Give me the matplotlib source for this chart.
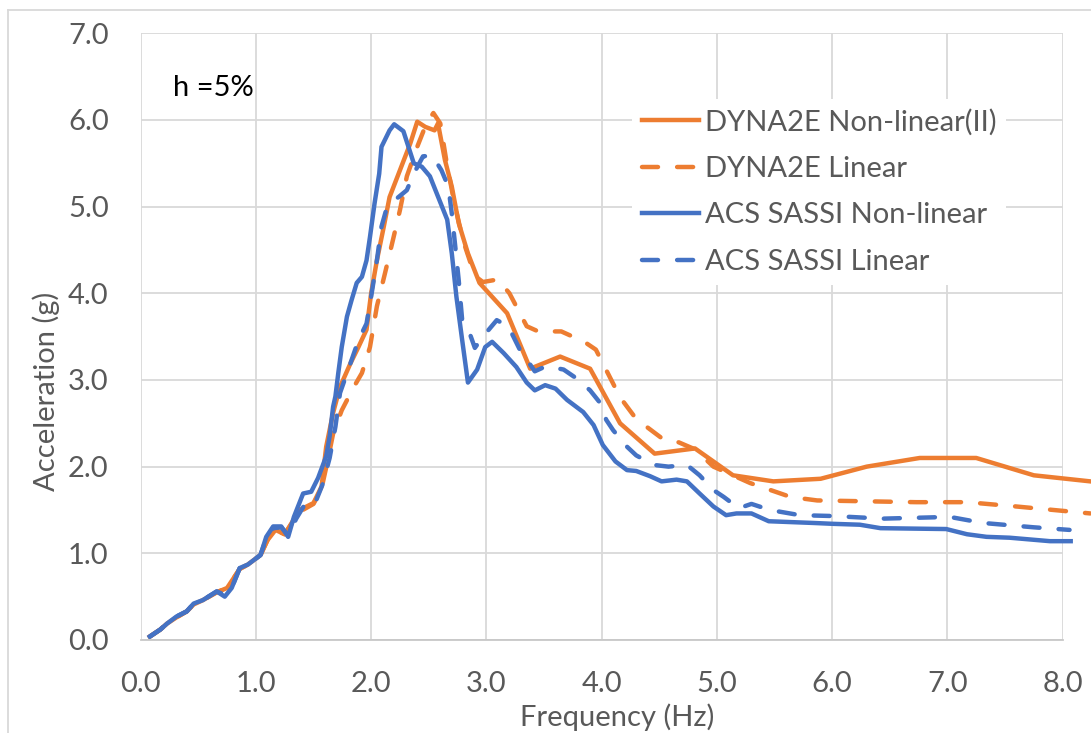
import numpy as np
import matplotlib
matplotlib.use("Agg")
import matplotlib.pyplot as plt
from matplotlib.lines import Line2D

plt.rcParams['font.family'] = ['Lato', 'DejaVu Sans']

# --- data ---
dyna_nl_f = [0.08, 0.17, 0.23, 0.31, 0.40, 0.46, 0.54, 0.66, 0.75, 0.86, 0.93, 1.04, 1.10, 1.17,
             1.25, 1.38, 1.50, 1.57, 1.61, 1.67, 1.73, 1.82, 1.89, 1.96, 2.00, 2.05, 2.11, 2.16,
             2.25, 2.34, 2.40, 2.47, 2.55, 2.58, 2.64, 2.70, 2.76, 2.84, 2.94, 3.18, 3.38, 3.64,
             3.90, 4.16, 4.46, 4.81, 5.14, 5.49, 5.90, 6.30, 6.76, 7.25, 7.75, 8.24]
dyna_nl_a = [0.04, 0.12, 0.19, 0.26, 0.33, 0.41, 0.46, 0.55, 0.60, 0.82, 0.87, 0.98, 1.15, 1.27,
             1.22, 1.50, 1.58, 1.77, 2.23, 2.62, 2.92, 3.19, 3.38, 3.58, 4.00, 4.38, 4.77, 5.11,
             5.42, 5.73, 5.98, 5.92, 5.88, 5.96, 5.54, 5.23, 4.81, 4.46, 4.12, 3.77, 3.13, 3.27,
             3.13, 2.50, 2.15, 2.21, 1.90, 1.83, 1.86, 2.00, 2.10, 2.10, 1.90, 1.83]

dyna_lin_f = [0.08, 0.17, 0.23, 0.31, 0.40, 0.46, 0.54, 0.66, 0.75, 0.86, 0.93, 1.04, 1.10, 1.17,
              1.25, 1.38, 1.50, 1.57, 1.62, 1.67, 1.745, 1.85, 1.92, 1.99, 2.05, 2.12, 2.19, 2.25,
              2.31, 2.40, 2.48, 2.54, 2.60, 2.65, 2.72, 2.80, 2.90, 2.97, 3.10, 3.20, 3.35, 3.45,
              3.65, 3.85, 3.95, 4.16, 4.30, 4.54, 4.67, 4.81, 4.97, 5.29, 5.64, 5.87, 6.73, 7.17,
              7.60, 8.24]
dyna_lin_a = [0.04, 0.12, 0.19, 0.26, 0.33, 0.41, 0.46, 0.55, 0.60, 0.82, 0.87, 0.98, 1.15, 1.27,
              1.22, 1.48, 1.57, 1.75, 2.05, 2.38, 2.65, 2.92, 3.08, 3.38, 3.85, 4.23, 4.62, 4.96,
              5.35, 5.69, 5.96, 6.08, 5.96, 5.55, 5.05, 4.60, 4.20, 4.13, 4.16, 4.00, 3.62, 3.56,
              3.56, 3.44, 3.35, 2.80, 2.55, 2.31, 2.28, 2.20, 2.00, 1.81, 1.65, 1.61, 1.59, 1.59,
              1.54, 1.46]

acs_nl_f = [0.08, 0.17, 0.23, 0.31, 0.40, 0.46, 0.54, 0.66, 0.73, 0.79, 0.86, 0.93, 1.04, 1.09,
            1.15, 1.22, 1.28, 1.33, 1.41, 1.48, 1.54, 1.61, 1.64, 1.67, 1.69, 1.715, 1.745, 1.79,
            1.83, 1.875, 1.92, 1.96, 1.99, 2.03, 2.07, 2.09, 2.16, 2.20, 2.28, 2.37, 2.44, 2.51,
            2.57, 2.66, 2.70, 2.74, 2.79, 2.84, 2.92, 2.99, 3.05, 3.15, 3.26, 3.35, 3.42, 3.51,
            3.60, 3.70, 3.84, 3.93, 4.01, 4.12, 4.22, 4.30, 4.42, 4.52, 4.65, 4.74, 4.85, 4.97,
            5.08, 5.17, 5.30, 5.45, 5.84, 6.01, 6.24, 6.42, 6.99, 7.17, 7.34, 7.54, 7.89, 8.07]
acs_nl_a = [0.04, 0.12, 0.19, 0.27, 0.33, 0.42, 0.46, 0.56, 0.50, 0.60, 0.83, 0.87, 0.98, 1.19,
            1.31, 1.31, 1.19, 1.42, 1.69, 1.71, 1.87, 2.12, 2.35, 2.69, 2.81, 3.08, 3.38, 3.73,
            3.92, 4.12, 4.19, 4.38, 4.65, 5.04, 5.38, 5.69, 5.88, 5.95, 5.87, 5.50, 5.46, 5.35,
            5.15, 4.85, 4.46, 3.96, 3.46, 2.97, 3.12, 3.38, 3.44, 3.31, 3.15, 2.97, 2.88, 2.94,
            2.90, 2.77, 2.63, 2.48, 2.25, 2.06, 1.96, 1.95, 1.89, 1.83, 1.85, 1.83, 1.69, 1.54,
            1.44, 1.46, 1.46, 1.37, 1.35, 1.34, 1.33, 1.29, 1.28, 1.22, 1.19, 1.18, 1.14, 1.14]

acs_lin_f = [0.08, 0.17, 0.23, 0.31, 0.40, 0.46, 0.54, 0.66, 0.73, 0.79, 0.86, 0.93, 1.04, 1.09,
             1.15, 1.22, 1.28, 1.35, 1.45, 1.52, 1.58, 1.64, 1.69, 1.73, 1.82, 1.89, 1.96, 2.00,
             2.05, 2.09, 2.13, 2.21, 2.31, 2.37, 2.45, 2.53, 2.61, 2.67, 2.70, 2.73, 2.76, 2.79,
             2.86, 2.90, 2.97, 3.09, 3.19, 3.29, 3.42, 3.52, 3.67, 3.78, 3.90, 3.99, 4.04, 4.10,
             4.22, 4.30, 4.45, 4.58, 4.74, 4.85, 4.97, 5.06, 5.19, 5.30, 5.46, 5.72, 6.01, 6.44,
             7.02, 7.31, 7.75, 8.06]
acs_lin_a = [0.04, 0.12, 0.19, 0.27, 0.33, 0.42, 0.46, 0.56, 0.52, 0.60, 0.83, 0.87, 0.98, 1.17,
             1.29, 1.30, 1.21, 1.40, 1.62, 1.60, 1.80, 2.10, 2.46, 2.85, 3.19, 3.46, 3.65, 3.96,
             4.38, 4.77, 4.96, 5.08, 5.19, 5.38, 5.58, 5.59, 5.42, 5.23, 4.92, 4.54, 4.15, 3.69,
             3.52, 3.37, 3.50, 3.69, 3.62, 3.35, 3.10, 3.16, 3.12, 3.02, 2.88, 2.73, 2.54, 2.42,
             2.23, 2.13, 2.02, 2.00, 2.02, 1.90, 1.73, 1.65, 1.52, 1.57, 1.50, 1.44, 1.43, 1.40,
             1.42, 1.35, 1.30, 1.27]

labels = ["DYNA2E Non-linear(II)", "DYNA2E Linear", "ACS SASSI Non-linear", "ACS SASSI Linear"]
xticks = [0, 1, 2, 3, 4, 5, 6, 7, 8]
yticks = [0, 1, 2, 3, 4, 5, 6, 7]

ORANGE = "#ED7D31"
BLUE = "#4472C4"
GRAY = "#595959"
FS = 21
dash = (0, (3.6, 4.3))

fig = plt.figure(figsize=(10.91, 7.33), dpi=100)
ax = fig.add_axes([0.1289, 0.1269, 0.8451, 0.8277])

lw = 3.2
ax.plot(dyna_nl_f, dyna_nl_a, color=ORANGE, lw=lw, label=labels[0], clip_on=False, solid_joinstyle='round')
ax.plot(dyna_lin_f, dyna_lin_a, color=ORANGE, lw=lw, ls=dash, dash_capstyle='round', label=labels[1], clip_on=False)
ax.plot(acs_nl_f, acs_nl_a, color=BLUE, lw=lw, label=labels[2], clip_on=False, solid_joinstyle='round')
ax.plot(acs_lin_f, acs_lin_a, color=BLUE, lw=lw, ls=dash, dash_capstyle='round', label=labels[3], clip_on=False)

ax.set_xlim(0, 8)
ax.set_ylim(0, 7)
ax.set_xticks(xticks)
ax.set_yticks(yticks)
ax.set_xticklabels([f"{v:.1f}" for v in xticks])
ax.set_yticklabels([f"{v:.1f}" for v in yticks])
ax.tick_params(length=0, labelsize=FS, colors=GRAY)
ax.tick_params(axis='y', pad=23)
ax.tick_params(axis='x', pad=22)
ax.grid(True, color="#D9D9D9", lw=1.3)
ax.set_axisbelow(True)
for s in ['top', 'right', 'left']:
    ax.spines[s].set_visible(False)
ax.spines['bottom'].set_color("#C8C8C8")
ax.spines['bottom'].set_linewidth(1.3)

ax.set_xlabel("Frequency (Hz)", fontsize=FS, color=GRAY)
ax.set_ylabel("Acceleration (g)", fontsize=FS, color=GRAY)
ax.xaxis.set_label_coords(0.517, -0.104)
ax.yaxis.set_label_coords(-0.087, 0.409)

ax.text(0.28, 6.28, "h =5%", fontsize=FS, color="black", va='baseline', ha='left')

leg = ax.legend(loc='upper left', bbox_to_anchor=(0.533, 0.892), borderaxespad=0,
                fontsize=FS, frameon=True, fancybox=False, edgecolor='none', framealpha=1,
                handlelength=1.95, handletextpad=0.2, borderpad=0.34, labelspacing=0.7)
for t in leg.get_texts():
    t.set_color(GRAY)

# outer chart border (left and top edges visible)
fig.add_artist(Line2D([8 / 1091, 8 / 1091], [0, 1 - 10 / 733], color="#D9D9D9", lw=1.3))
fig.add_artist(Line2D([8 / 1091, 1], [1 - 10 / 733, 1 - 10 / 733], color="#D9D9D9", lw=1.3))

fig.savefig("out.png", dpi=100)
